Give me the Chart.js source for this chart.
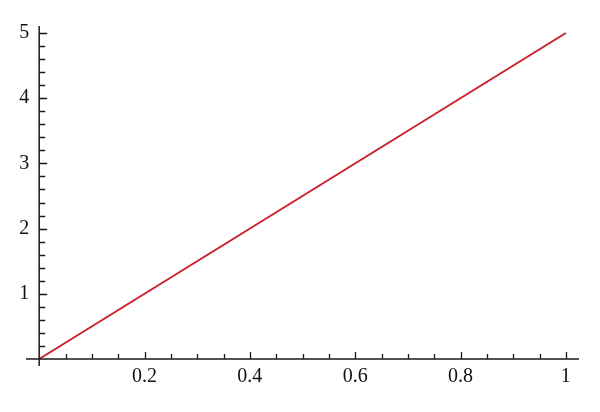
<!DOCTYPE html>
<html>
<head>
<meta charset="utf-8">
<script src="https://cdn.jsdelivr.net/npm/chart.js@4.4.0/dist/chart.umd.min.js"></script>
<style>
  html, body { margin: 0; padding: 0; background: #fff; }
  #wrap { width: 600px; height: 412px; }
</style>
</head>
<body>
<div id="wrap"><canvas id="plot"></canvas></div>
<script>
// line data
const xValues = [0, 1];
const yValues = [0, 5];

// tick labels and minor tick steps
const xTickLabels = [0.2, 0.4, 0.6, 0.8, 1];
const yTickLabels = [1, 2, 3, 4, 5];
const xMinorStep = 0.05;
const yMinorStep = 0.2;

const lineColor = '#cc1f2e';
const axisColor = '#1a1a1a';

// draws axes through the origin, ticks pointing inward, like the original plot
const originAxes = {
  id: 'originAxes',
  afterDatasetsDraw(chart) {
    const { ctx, chartArea, scales: { x, y } } = chart;
    const x0 = x.getPixelForValue(0);
    const y0 = y.getPixelForValue(0);
    ctx.save();
    ctx.strokeStyle = axisColor;
    ctx.lineWidth = 1.5;
    ctx.beginPath();
    ctx.moveTo(chartArea.left, y0);
    ctx.lineTo(chartArea.right, y0);
    ctx.moveTo(x0, chartArea.top);
    ctx.lineTo(x0, chartArea.bottom);
    ctx.stroke();

    ctx.lineWidth = 1.3;
    ctx.beginPath();
    // x ticks
    for (let i = 1; i * xMinorStep <= x.max; i++) {
      const v = +(i * xMinorStep).toFixed(4);
      const px = Math.round(x.getPixelForValue(v)) + 0.5;
      const major = xTickLabels.some(t => Math.abs(t - v) < 1e-6);
      ctx.moveTo(px, y0);
      ctx.lineTo(px, y0 - (major ? 7 : 5));
    }
    // y ticks
    for (let i = 1; i * yMinorStep <= y.max; i++) {
      const v = +(i * yMinorStep).toFixed(4);
      const py = Math.round(y.getPixelForValue(v)) + 0.5;
      const major = yTickLabels.some(t => Math.abs(t - v) < 1e-6);
      ctx.moveTo(x0, py);
      ctx.lineTo(x0 + (major ? 8 : 6), py);
    }
    ctx.stroke();

    ctx.fillStyle = '#111';
    ctx.font = '20px "Liberation Serif", "DejaVu Serif", serif';
    ctx.textAlign = 'center';
    ctx.textBaseline = 'middle';
    xTickLabels.forEach(t => {
      ctx.fillText(String(t), x.getPixelForValue(t), y0 + 18);
    });
    ctx.textAlign = 'right';
    yTickLabels.forEach(t => {
      ctx.fillText(String(t), x0 - 10, y.getPixelForValue(t));
    });
    ctx.restore();
  }
};

new Chart(document.getElementById('plot'), {
  type: 'scatter',
  data: {
    datasets: [{
      data: xValues.map((v, i) => ({ x: v, y: yValues[i] })),
      showLine: true,
      borderColor: lineColor,
      borderWidth: 2,
      pointRadius: 0,
      fill: false,
    }],
  },
  options: {
    responsive: true,
    maintainAspectRatio: false,
    animation: false,
    layout: { padding: { left: 26, right: 21, top: 26, bottom: 46 } },
    plugins: { legend: { display: false }, tooltip: { enabled: false } },
    scales: {
      x: { type: 'linear', display: false, min: -0.025, max: 1.025 },
      y: { type: 'linear', display: false, min: -0.107, max: 5.107 },
    },
  },
  plugins: [originAxes],
});
</script>
</body>
</html>
